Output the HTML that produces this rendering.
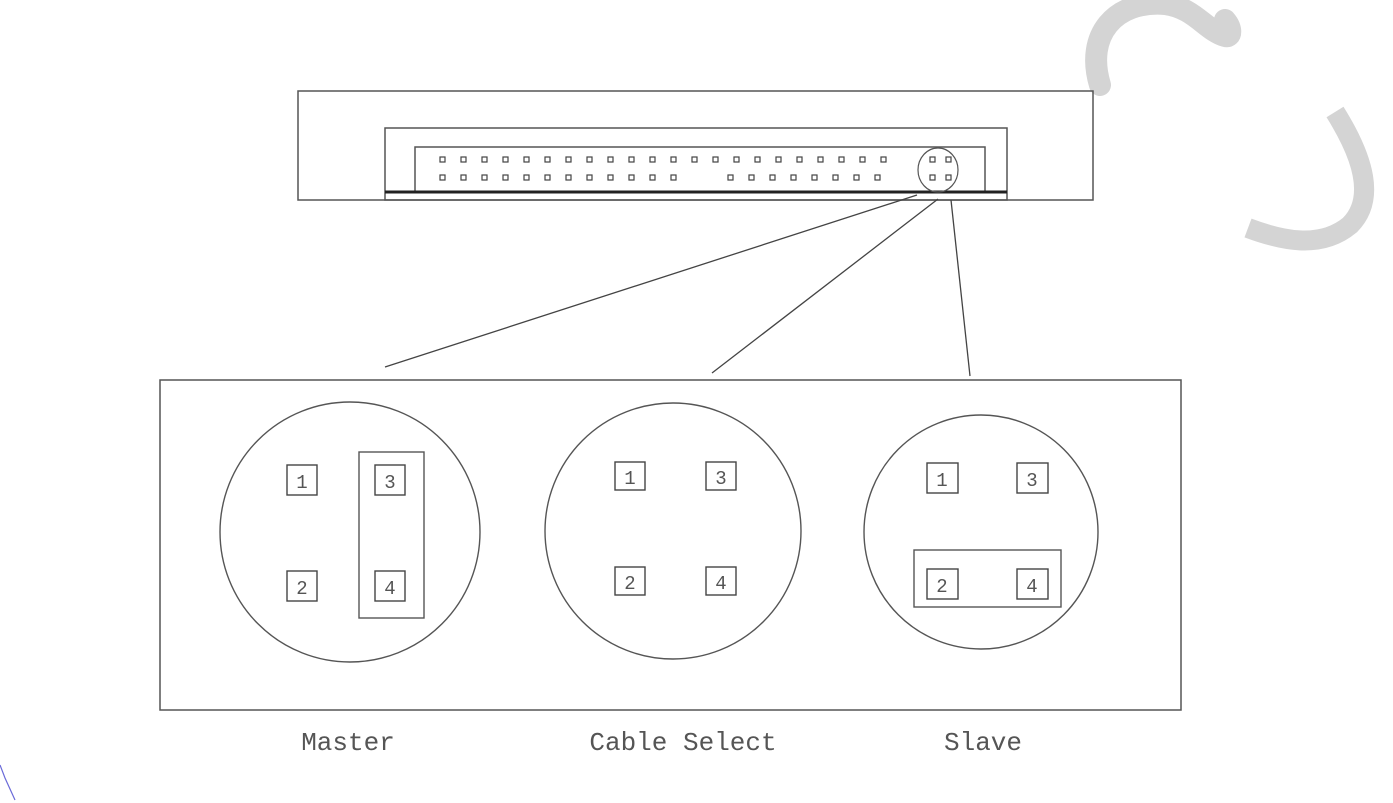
<!DOCTYPE html>
<html><head><meta charset="utf-8"><style>
html,body{margin:0;padding:0;background:#fff;}
svg{display:block;}
text{font-family:"Liberation Mono","DejaVu Sans Mono",monospace;fill:#555;}
</style></head><body>
<svg width="1393" height="803" viewBox="0 0 1393 803" xmlns="http://www.w3.org/2000/svg">
<!-- grey swirl -->
<path d="M1100,85 C1085,35 1115,0 1165,4 C1195,8 1205,30 1225,36 C1232,38 1232,28 1225,20" fill="none" stroke="#d4d4d4" stroke-width="22" stroke-linecap="round"/>
<path d="M1335,112 C1365,160 1375,200 1350,225 C1320,250 1280,240 1248,228" fill="none" stroke="#d4d4d4" stroke-width="20"/>
<!-- drive -->
<g fill="none" stroke="#555" stroke-width="1.5">
<rect x="298" y="91" width="795" height="109"/>
<rect x="385" y="128" width="622" height="72"/>
<rect x="415" y="147" width="570" height="45"/>
</g>
<line x1="385" y1="192" x2="1007" y2="192" stroke="#222" stroke-width="3"/>
<g fill="#fff" stroke="#444" stroke-width="1.2">
<rect x="440" y="157" width="5" height="5"/><rect x="461" y="157" width="5" height="5"/><rect x="482" y="157" width="5" height="5"/><rect x="503" y="157" width="5" height="5"/><rect x="524" y="157" width="5" height="5"/><rect x="545" y="157" width="5" height="5"/><rect x="566" y="157" width="5" height="5"/><rect x="587" y="157" width="5" height="5"/><rect x="608" y="157" width="5" height="5"/><rect x="629" y="157" width="5" height="5"/><rect x="650" y="157" width="5" height="5"/><rect x="671" y="157" width="5" height="5"/><rect x="692" y="157" width="5" height="5"/><rect x="713" y="157" width="5" height="5"/><rect x="734" y="157" width="5" height="5"/><rect x="755" y="157" width="5" height="5"/><rect x="776" y="157" width="5" height="5"/><rect x="797" y="157" width="5" height="5"/><rect x="818" y="157" width="5" height="5"/><rect x="839" y="157" width="5" height="5"/><rect x="860" y="157" width="5" height="5"/><rect x="881" y="157" width="5" height="5"/>
<rect x="440" y="175" width="5" height="5"/><rect x="461" y="175" width="5" height="5"/><rect x="482" y="175" width="5" height="5"/><rect x="503" y="175" width="5" height="5"/><rect x="524" y="175" width="5" height="5"/><rect x="545" y="175" width="5" height="5"/><rect x="566" y="175" width="5" height="5"/><rect x="587" y="175" width="5" height="5"/><rect x="608" y="175" width="5" height="5"/><rect x="629" y="175" width="5" height="5"/><rect x="650" y="175" width="5" height="5"/><rect x="671" y="175" width="5" height="5"/><rect x="728" y="175" width="5" height="5"/><rect x="749" y="175" width="5" height="5"/><rect x="770" y="175" width="5" height="5"/><rect x="791" y="175" width="5" height="5"/><rect x="812" y="175" width="5" height="5"/><rect x="833" y="175" width="5" height="5"/><rect x="854" y="175" width="5" height="5"/><rect x="875" y="175" width="5" height="5"/>
<rect x="930" y="157" width="5" height="5"/><rect x="946" y="157" width="5" height="5"/><rect x="930" y="175" width="5" height="5"/><rect x="946" y="175" width="5" height="5"/>
</g>
<ellipse cx="938" cy="170" rx="20" ry="22" fill="none" stroke="#555" stroke-width="1.2"/>
<!-- leader lines -->
<g stroke="#444" stroke-width="1.3">
<line x1="385" y1="367" x2="917" y2="195"/>
<line x1="712" y1="373" x2="938" y2="199"/>
<line x1="970" y1="376" x2="951" y2="200"/>
</g>
<!-- big box -->
<rect x="160" y="380" width="1021" height="330" fill="none" stroke="#555" stroke-width="1.5"/>
<g fill="none" stroke="#555" stroke-width="1.4">
<circle cx="350" cy="532" r="130"/>
<circle cx="673" cy="531" r="128"/>
<circle cx="981" cy="532" r="117"/>
<rect x="359" y="452" width="65" height="166"/>
<rect x="914" y="550" width="147" height="57"/>
</g>
<g fill="#fff" stroke="#444" stroke-width="1.4">
<rect x="287" y="465" width="30" height="30"/><rect x="375" y="465" width="30" height="30"/>
<rect x="287" y="571" width="30" height="30"/><rect x="375" y="571" width="30" height="30"/>
<rect x="615" y="462" width="30" height="28"/><rect x="706" y="462" width="30" height="28"/>
<rect x="615" y="567" width="30" height="28"/><rect x="706" y="567" width="30" height="28"/>
<rect x="927" y="463" width="31" height="30"/><rect x="1017" y="463" width="31" height="30"/>
<rect x="927" y="569" width="31" height="30"/><rect x="1017" y="569" width="31" height="30"/>
</g>
<g font-size="19" text-anchor="middle">
<text x="302" y="488">1</text><text x="390" y="488">3</text><text x="302" y="594">2</text><text x="390" y="594">4</text>
<text x="630" y="484">1</text><text x="721" y="484">3</text><text x="630" y="589">2</text><text x="721" y="589">4</text>
<text x="942" y="486">1</text><text x="1032" y="486">3</text><text x="942" y="592">2</text><text x="1032" y="592">4</text>
</g>
<g font-size="26" text-anchor="middle">
<text x="348" y="750">Master</text>
<text x="683" y="750">Cable Select</text>
<text x="983" y="750">Slave</text>
</g>
<!-- blue mark -->
<path d="M0,765 L5,778 L15,800" fill="none" stroke="#6a6ad8" stroke-width="1.2"/>
</svg>
</body></html>
